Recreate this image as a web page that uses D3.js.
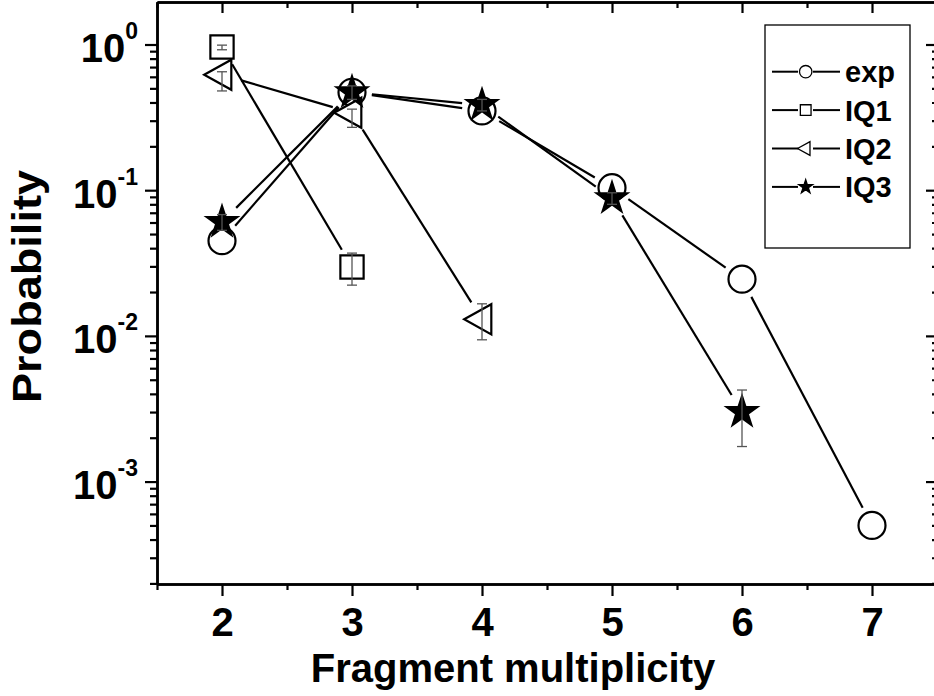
<!DOCTYPE html>
<html>
<head>
<meta charset="utf-8">
<script src="https://cdn.jsdelivr.net/npm/d3@7"></script>
<style>
  body { margin: 0; background: #fff; }
  svg text { font-family: "Liberation Sans", Arial, sans-serif; font-weight: bold; fill: #000; }
</style>
</head>
<body>
<svg id="chart" width="934" height="696"></svg>
<script>
// data
var expX = [2, 3, 4, 5, 6, 7]
var expP = [0.045, 0.47, 0.35, 0.104, 0.0245, 0.0005]

var iq1X = [2, 3]
var iq1P = [0.96, 0.0297]
var iq1Lo = [0.92, 0.0223]
var iq1Hi = [0.99, 0.037]

var iq2X = [2, 3, 4]
var iq2P = [0.62, 0.34, 0.013]
var iq2Lo = [0.48, 0.27, 0.0094]
var iq2Hi = [0.65, 0.36, 0.0166]

var iq3X = [2, 3, 4, 5, 6]
var iq3P = [0.0605, 0.47, 0.384, 0.088, 0.0030]
var iq3Lo = [0.053, 0.42, 0.35, 0.08, 0.00174]
var iq3Hi = [0.068, 0.52, 0.42, 0.096, 0.00425]

var xTicks = [2, 3, 4, 5, 6, 7]
var xMinor = [1.5, 2.5, 3.5, 4.5, 5.5, 6.5, 7.5]
var yExps = [0, -1, -2, -3]
var seriesNames = ["exp", "IQ1", "IQ2", "IQ3"]

var svg = d3.select("#chart")
var plotLeft = 157, plotRight = 937, plotTop = 2, plotBottom = 584

var x = d3.scaleLinear().domain([1.5, 7.5]).range([plotLeft, plotRight])
var y = d3.scaleLog().domain([Math.pow(10, -3.703), Math.pow(10, 0.2917)]).range([plotBottom, plotTop])

var yMajor = yExps.map(function(e) { return Math.pow(10, e) })
var yMinor = []
for (var d = -4; d <= 0; d++) {
    for (var k = 2; k <= 9; k++) {
        var v = k * Math.pow(10, d)
        if (v >= y.domain()[0] && v <= y.domain()[1]) yMinor.push(v)
    }
}

function styleAxis(g) {
    g.selectAll("path").attr("stroke", "#000").attr("stroke-width", 2.5)
    g.selectAll("line").attr("stroke", "#000").attr("stroke-width", 2.2)
}

// bottom axis
var gb = svg.append("g").attr("transform", `translate(0,${plotBottom})`)
gb.call(d3.axisBottom(x).tickValues(xTicks).tickSize(12).tickSizeOuter(0).tickFormat(d3.format("d")))
gb.call(styleAxis)
gb.selectAll("text").attr("font-size", 40).attr("font-family", null).attr("dy", null).attr("y", 52)
svg.append("g").attr("transform", `translate(0,${plotBottom})`)
    .call(d3.axisBottom(x).tickValues(xMinor).tickSize(6).tickFormat("").tickSizeOuter(0))
    .call(styleAxis)

// top axis, ticks inward
svg.append("g").attr("transform", `translate(0,${plotTop})`)
    .call(d3.axisBottom(x).tickValues(xTicks).tickSize(11).tickFormat("").tickSizeOuter(0))
    .call(styleAxis)
svg.append("g").attr("transform", `translate(0,${plotTop})`)
    .call(d3.axisBottom(x).tickValues(xMinor).tickSize(6).tickFormat("").tickSizeOuter(0))
    .call(styleAxis)

// left axis
svg.append("g").attr("transform", `translate(${plotLeft},0)`)
    .call(d3.axisLeft(y).tickValues(yMajor).tickSize(12).tickFormat("").tickSizeOuter(0))
    .call(styleAxis)
svg.append("g").attr("transform", `translate(${plotLeft},0)`)
    .call(d3.axisLeft(y).tickValues(yMinor).tickSize(7).tickFormat("").tickSizeOuter(0))
    .call(styleAxis)

// right axis (line just outside the window), ticks inward
svg.append("g").attr("transform", `translate(${plotRight},0)`)
    .call(d3.axisLeft(y).tickValues(yMajor).tickSize(11).tickFormat("").tickSizeOuter(0))
    .call(styleAxis)
svg.append("g").attr("transform", `translate(${plotRight},0)`)
    .call(d3.axisLeft(y).tickValues(yMinor).tickSize(5).tickFormat("").tickSizeOuter(0))
    .call(styleAxis)

// y tick labels 10^n
yExps.forEach(function(e) {
    var t = svg.append("text")
        .attr("x", 138).attr("y", y(Math.pow(10, e)) + 17.5)
        .attr("text-anchor", "end")
    t.append("tspan").attr("font-size", 40).text("10")
    t.append("tspan").attr("font-size", 23).attr("dy", -23).text(e)
})

// axis titles
svg.append("text")
    .attr("x", 513).attr("y", 682)
    .attr("text-anchor", "middle")
    .attr("font-size", 40)
    .text("Fragment multiplicity")

svg.append("text")
    .attr("transform", "translate(41,286.5) rotate(-90)")
    .attr("text-anchor", "middle")
    .attr("font-size", 40)
    .attr("textLength", 233)
    .attr("lengthAdjust", "spacingAndGlyphs")
    .text("Probability")

// marker shapes
function markerPath(kind, s) {
    if (kind == "circle") return d3.symbol().type(d3.symbolCircle).size(Math.PI * s * s)()
    if (kind == "square") return d3.symbol().type(d3.symbolSquare).size(s * s * 3.2)()
    if (kind == "triangle") return `M${-1.3 * s},0L${0.68 * s},${-1.1 * s}L${0.68 * s},${1.1 * s}Z`
    return d3.symbol().type(d3.symbolStar).size(s * s * 1.55)()
}

var series = [
    { name: "exp", xs: expX, ps: expP, kind: "circle", size: 13.5, fill: "#fff" },
    { name: "IQ1", xs: iq1X, ps: iq1P, lo: iq1Lo, hi: iq1Hi, kind: "square", size: 13, fill: "#fff" },
    { name: "IQ2", xs: iq2X, ps: iq2P, lo: iq2Lo, hi: iq2Hi, kind: "triangle", size: 13.7, fill: "#fff" },
    { name: "IQ3", xs: iq3X, ps: iq3P, lo: iq3Lo, hi: iq3Hi, kind: "star", size: 13.5, fill: "#000" }
]

var gap = 20
var plot = svg.append("g")

// connecting lines, stopped short of each symbol
series.forEach(function(s) {
    for (var i = 0; i < s.xs.length - 1; i++) {
        var x1 = x(s.xs[i]), y1 = y(s.ps[i]), x2 = x(s.xs[i + 1]), y2 = y(s.ps[i + 1])
        var len = Math.hypot(x2 - x1, y2 - y1)
        var ux = (x2 - x1) / len, uy = (y2 - y1) / len
        plot.append("line")
            .attr("x1", x1 + ux * gap).attr("y1", y1 + uy * gap)
            .attr("x2", x2 - ux * gap).attr("y2", y2 - uy * gap)
            .attr("stroke", "#000").attr("stroke-width", 2.2)
    }
})

// symbols then error bars
series.forEach(function(s) {
    plot.selectAll(null)
        .data(s.xs.map(function(v, i) { return [v, s.ps[i]] }))
        .enter().append("path")
        .attr("d", markerPath(s.kind, s.size))
        .attr("transform", function(d) { return `translate(${x(d[0])},${y(d[1])})` })
        .attr("fill", s.fill)
        .attr("stroke", "#000")
        .attr("stroke-width", 2.2)
    if (!s.lo) return
    s.xs.forEach(function(v, i) {
        var cx = x(v), ya = y(s.hi[i]), yb = y(s.lo[i])
        var eb = plot.append("g").attr("stroke", "#555").attr("stroke-width", 1.3)
        eb.append("line").attr("x1", cx).attr("x2", cx).attr("y1", ya).attr("y2", yb)
        eb.append("line").attr("x1", cx - 5).attr("x2", cx + 5).attr("y1", ya).attr("y2", ya)
        eb.append("line").attr("x1", cx - 5).attr("x2", cx + 5).attr("y1", yb).attr("y2", yb)
    })
})

// legend
var legend = svg.append("g")
legend.append("rect")
    .attr("x", 765).attr("y", 25).attr("width", 145).attr("height", 223)
    .attr("fill", "#fff").attr("stroke", "#000").attr("stroke-width", 1.3)
series.forEach(function(s, i) {
    var ly = 71.7 + i * 38.4
    var row = legend.append("g")
    row.append("line").attr("x1", 772).attr("x2", 798).attr("y1", ly).attr("y2", ly)
        .attr("stroke", "#000").attr("stroke-width", 2)
    row.append("line").attr("x1", 813).attr("x2", 840).attr("y1", ly).attr("y2", ly)
        .attr("stroke", "#000").attr("stroke-width", 2)
    row.append("path")
        .attr("d", markerPath(s.kind, s.size * 0.46))
        .attr("transform", `translate(805.7,${ly})`)
        .attr("fill", s.fill).attr("stroke", "#000").attr("stroke-width", 1.3)
    row.append("text")
        .attr("x", 845).attr("y", ly + 10.5)
        .attr("font-size", 29)
        .text(seriesNames[i])
})
</script>
</body>
</html>
